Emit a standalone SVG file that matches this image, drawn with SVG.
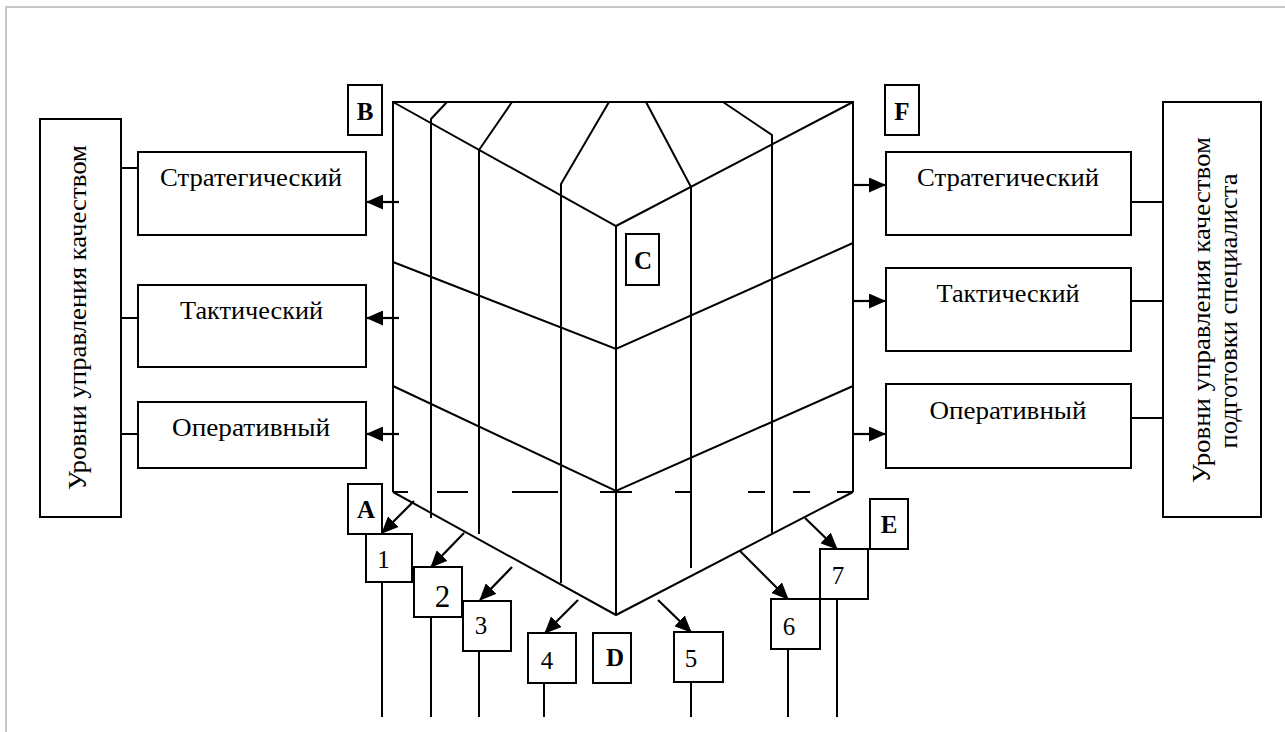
<svg xmlns="http://www.w3.org/2000/svg" width="1285" height="732" viewBox="0 0 1285 732">
<defs>
<style>
.frame{stroke:#c8c8c8;stroke-width:2;fill:none}
.ln{stroke:#000;stroke-width:2;fill:none;stroke-linejoin:miter}
.box{stroke:#000;stroke-width:2;fill:#fff}
.lbl{font-family:"Liberation Serif","Times New Roman",serif;font-size:26px;fill:#000;text-anchor:middle}
.let{font-family:"Liberation Serif","Times New Roman",serif;font-size:25px;font-weight:bold;fill:#000;text-anchor:middle}
.num{font-family:"Liberation Serif","Times New Roman",serif;font-size:25px;fill:#000;text-anchor:middle}
.arr{stroke:#000;stroke-width:2.2;fill:none;marker-end:url(#ah)}
</style>
<marker id="ah" viewBox="0 0 17 15" refX="16" refY="7.5" markerWidth="17" markerHeight="15" markerUnits="userSpaceOnUse" orient="auto">
<path d="M0,0 L17,7.5 L0,15 z" fill="#000"/>
</marker>
</defs>
<rect width="1285" height="732" fill="#fff"/>
<path class="frame" d="M6,732 V7 H1285"/>

<g id="prism" class="ln">
<path d="M393,492 V102 H853 V492"/>
<path d="M393,102 L616,226 L853,102"/>
<path d="M393,262 L616,349 L853,243"/>
<path d="M393,386 L616,491 L853,386"/>
<path d="M393,492 L616,615 L853,492"/>
<path d="M616,226 V615"/>
<path d="M447,102 L431,119 V518"/>
<path d="M512,102 L479,150 V534"/>
<path d="M609,102 L561,184 V583"/>
<path d="M646,102 L691,187 V568"/>
<path d="M723,102 L772,135 V533"/>
<path d="M393,492 H408 M437,492 H468 M512,492 H558 M600,492 H632 M675,492 H690 M748,492 H765 M793,492 H810 M837,492 H853"/>
</g>

<g id="connectors">
<path class="ln" d="M121,168 H138 M121,318 H138 M121,434 H138"/>
<path class="ln" d="M1131,202 H1163 M1131,301 H1163 M1131,418 H1163"/>
<path class="arr" d="M399,202 H367"/>
<path class="arr" d="M399,318 H367"/>
<path class="arr" d="M399,434 H367"/>
<path class="arr" d="M853,185 H885"/>
<path class="arr" d="M853,301 H885"/>
<path class="arr" d="M853,434 H885"/>
<path class="arr" d="M414,501 L382,533"/>
<path class="arr" d="M464,533 L431,567"/>
<path class="arr" d="M512,567 L480,600"/>
<path class="arr" d="M578,600 L545,633"/>
<path class="arr" d="M658,600 L691,632"/>
<path class="arr" d="M740,551 L788,599"/>
<path class="arr" d="M805,518 L837,549"/>
<path class="ln" d="M382,582 V717 M431,617 V717 M479,651 V717 M544,683 V717 M691,682 V717 M788,649 V717 M837,599 V717"/>
</g>

<g id="left-title">
<rect class="box" x="40" y="119" width="81" height="398"/>
<text class="lbl" transform="translate(86,317.5) rotate(-90)" textLength="345" lengthAdjust="spacingAndGlyphs">Уровни управления качеством</text>
</g>
<g id="left-strategic">
<rect class="box" x="138" y="152" width="228" height="83"/>
<text class="lbl" x="251" y="186" textLength="182" lengthAdjust="spacingAndGlyphs">Стратегический</text>
</g>
<g id="left-tactical">
<rect class="box" x="138" y="285" width="228" height="82"/>
<text class="lbl" x="251.5" y="319" textLength="143" lengthAdjust="spacingAndGlyphs">Тактический</text>
</g>
<g id="left-operative">
<rect class="box" x="138" y="402" width="228" height="66"/>
<text class="lbl" x="251" y="436" textLength="158" lengthAdjust="spacingAndGlyphs">Оперативный</text>
</g>

<g id="right-title">
<rect class="box" x="1163" y="102" width="98" height="415"/>
<text class="lbl" transform="translate(1210,310) rotate(-90)" textLength="346" lengthAdjust="spacingAndGlyphs">Уровни управления качеством</text>
<text class="lbl" transform="translate(1237,311) rotate(-90)" textLength="275" lengthAdjust="spacingAndGlyphs">подготовки специалиста</text>
</g>
<g id="right-strategic">
<rect class="box" x="886" y="152" width="245" height="83"/>
<text class="lbl" x="1008" y="186" textLength="182" lengthAdjust="spacingAndGlyphs">Стратегический</text>
</g>
<g id="right-tactical">
<rect class="box" x="886" y="268" width="245" height="83"/>
<text class="lbl" x="1008" y="302" textLength="143" lengthAdjust="spacingAndGlyphs">Тактический</text>
</g>
<g id="right-operative">
<rect class="box" x="886" y="384" width="245" height="84"/>
<text class="lbl" x="1008" y="419" textLength="157" lengthAdjust="spacingAndGlyphs">Оперативный</text>
</g>

<g id="label-B"><rect class="box" x="348" y="85" width="34" height="50"/><text class="let" x="365" y="120">B</text></g>
<g id="label-F"><rect class="box" x="885" y="85" width="34" height="50"/><text class="let" x="902" y="120">F</text></g>
<g id="label-C"><rect class="box" x="626" y="234" width="33" height="51"/><text class="let" x="643" y="269">C</text></g>
<g id="label-A"><rect class="box" x="348" y="484" width="34" height="50"/><text class="let" x="366" y="518">A</text></g>
<g id="label-D"><rect class="box" x="593" y="633" width="38" height="50"/><text class="let" x="615" y="666">D</text></g>
<g id="label-E"><rect class="box" x="870" y="499" width="38" height="50"/><text class="let" x="889" y="533">E</text></g>

<g id="box-1"><rect class="box" x="366" y="534" width="46" height="48"/><text class="num" x="383.5" y="568">1</text></g>
<g id="box-2"><rect class="box" x="414" y="567" width="48" height="50"/><text class="num" x="442.5" y="607" style="font-size:31px">2</text></g>
<g id="box-3"><rect class="box" x="463" y="601" width="48" height="50"/><text class="num" x="481" y="634">3</text></g>
<g id="box-4"><rect class="box" x="528" y="633" width="48" height="50"/><text class="num" x="547" y="669">4</text></g>
<g id="box-5"><rect class="box" x="674" y="632" width="49" height="50"/><text class="num" x="691" y="667">5</text></g>
<g id="box-6"><rect class="box" x="771" y="599" width="49" height="50"/><text class="num" x="789" y="635">6</text></g>
<g id="box-7"><rect class="box" x="820" y="549" width="48" height="50"/><text class="num" x="838" y="584">7</text></g>
</svg>
